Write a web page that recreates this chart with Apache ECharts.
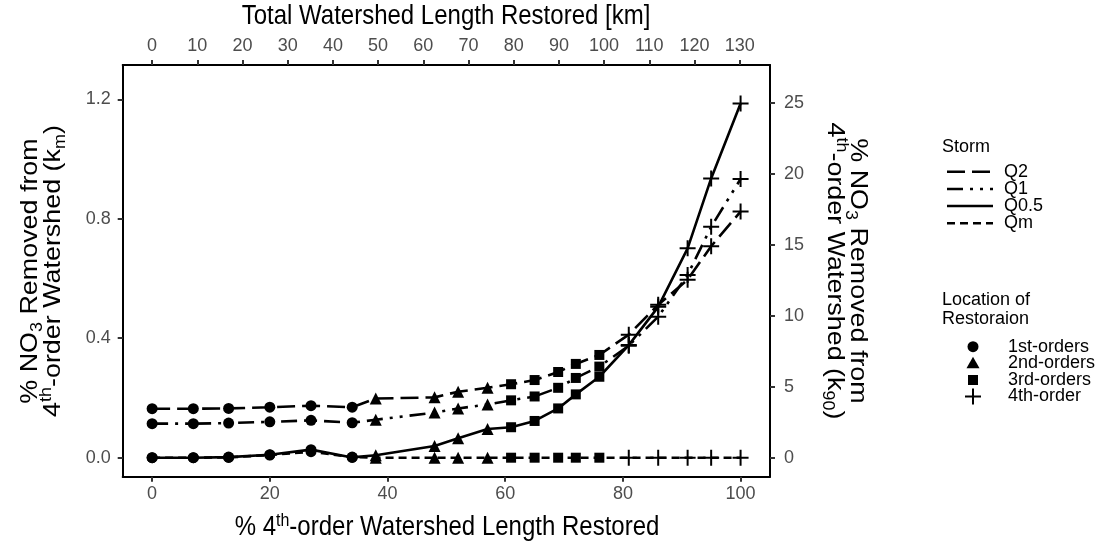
<!DOCTYPE html>
<html><head><meta charset="utf-8">
<script src="https://cdn.jsdelivr.net/npm/echarts@6/dist/echarts.min.js"></script>
<style>html,body{margin:0;padding:0;background:#fff}#c{width:1100px;height:550px}</style>
</head><body><div id="c"></div>
<script>
// ---- data ----
const pctRestored = [0, 7, 13, 20, 27, 34, 38, 48, 52, 57, 61, 65, 69, 72, 76, 81, 86, 91, 95, 100];
const locationOf = ['1st-orders','1st-orders','1st-orders','1st-orders','1st-orders','1st-orders',
  '2nd-orders','2nd-orders','2nd-orders','2nd-orders',
  '3rd-orders','3rd-orders','3rd-orders','3rd-orders','3rd-orders',
  '4th-order','4th-order','4th-order','4th-order','4th-order'];
const storms = ['Q2', 'Q1', 'Q0.5', 'Qm'];
const locations = ['1st-orders', '2nd-orders', '3rd-orders', '4th-order'];
const valuesQ2  = [0.164, 0.164, 0.165, 0.169, 0.174, 0.169, 0.198, 0.202, 0.221, 0.234, 0.246, 0.260, 0.287, 0.314, 0.344, 0.412, 0.512, 0.596, 0.708, 0.824];
const valuesQ1  = [0.114, 0.114, 0.116, 0.120, 0.125, 0.117, 0.127, 0.151, 0.165, 0.178, 0.192, 0.205, 0.234, 0.267, 0.305, 0.375, 0.472, 0.612, 0.773, 0.933];
const valuesQ05 = [0.000, 0.000, 0.002, 0.010, 0.027, 0.001, 0.008, 0.039, 0.065, 0.096, 0.102, 0.123, 0.165, 0.212, 0.271, 0.377, 0.505, 0.701, 0.935, 1.186];
const valuesQm  = [0.000, 0.000, 0.001, 0.009, 0.020, 0.002, 0.000, 0.000, 0.000, 0.000, 0.000, 0.000, 0.000, 0.000, 0.000, 0.000, 0.000, 0.000, 0.000, 0.000];
const bottomTicks = [0, 20, 40, 60, 80, 100];
const topTicksKm = [0, 10, 20, 30, 40, 50, 60, 70, 80, 90, 100, 110, 120, 130];
const leftTicks = [0, 0.4, 0.8, 1.2];
const rightTicks = [0, 5, 10, 15, 20, 25];
const kmPerPct = 1.302;     // top axis: total length in km per % restored
const k90PerKm = 21.03;     // right axis scale relative to left axis

// ---- styles ----
const FONT = '"Liberation Sans", Arial, Helvetica, sans-serif';
const dashes = { 'Q2': [18, 7], 'Q1': [16, 7, 3, 7, 3, 7], 'Q0.5': 'solid', 'Qm': [8, 5] };
const plusPath = 'path://M7,0 h2 v7 h7 v2 h-7 v7 h-2 v-7 h-7 v-2 h7 z';
const symbolOf = { '1st-orders': ['circle', 11], '2nd-orders': ['triangle', 12], '3rd-orders': ['rect', 10], '4th-order': [plusPath, 16] };
const valuesByStorm = { 'Q2': valuesQ2, 'Q1': valuesQ1, 'Q0.5': valuesQ05, 'Qm': valuesQm };

const xMin = -5, xMax = 105, yMin = -0.0636, yMax = 1.3147;

const rich = {
  n:   { fontSize: 24, fontFamily: FONT, color: '#000', lineHeight: 23 },
  sub: { fontSize: 16, fontFamily: FONT, color: '#000', height: 9, lineHeight: 9, verticalAlign: 'bottom' },
  sup: { fontSize: 16, fontFamily: FONT, color: '#000', height: 10, lineHeight: 10, verticalAlign: 'top' }
};
const tickLabel = { color: '#4d4d4d', fontSize: 18, fontFamily: FONT };
const axisLine = { show: true, onZero: false, lineStyle: { color: '#000', width: 2 } };
const axisTick = { show: true, length: 5, lineStyle: { color: '#333', width: 2 } };

const series = storms.map(s => ({
  name: s, type: 'line', xAxisIndex: 0, yAxisIndex: 0,
  data: pctRestored.map((x, i) => ({
    value: [x, valuesByStorm[s][i]],
    symbol: symbolOf[locationOf[i]][0],
    symbolSize: symbolOf[locationOf[i]][1]
  })),
  symbolKeepAspect: true,
  lineStyle: { color: '#000', width: 2.6, type: dashes[s] },
  itemStyle: { color: '#000' },
  emphasis: { disabled: true },
  silent: true
}));

// ---- titles & legend (drawn as text) ----
const graphic = [];
const STRETCH = 1.12;
graphic.push({ type: 'text', x: 446, y: 17, scaleY: STRETCH,
  style: { text: '{n|Total Watershed Length Restored [km]}', rich, align: 'center', verticalAlign: 'middle' } });
graphic.push({ type: 'text', x: 447, y: 528, scaleY: STRETCH,
  style: { text: '{n|% 4}{sup|th}{n|-order Watershed Length Restored}', rich, align: 'center', verticalAlign: 'middle' } });
graphic.push({ type: 'text', x: 42, y: 271, rotation: Math.PI / 2, scaleX: STRETCH,
  style: { text: '{n|% NO}{sub|3}{n| Removed from}\n{n|4}{sup|th}{n|-order Watershed (k}{sub|m}{n|)}', rich, align: 'center', verticalAlign: 'middle' } });
graphic.push({ type: 'text', x: 846, y: 271, rotation: -Math.PI / 2, scaleX: STRETCH,
  style: { text: '{n|% NO}{sub|3}{n| Removed from}\n{n|4}{sup|th}{n|-order Watershed (k}{sub|90}{n|)}', rich, align: 'center', verticalAlign: 'middle' } });

const LG = 18;
graphic.push({ type: 'text', x: 942, y: 146.7, style: { text: 'Storm', fontSize: LG, fontFamily: FONT, fill: '#000', verticalAlign: 'middle' } });
const stormY = [171.7, 189, 206, 223.3];
storms.forEach((s, i) => {
  graphic.push({ type: 'line', shape: { x1: 947, y1: stormY[i], x2: 993, y2: stormY[i] },
    style: { stroke: '#000', lineWidth: 2.6, lineDash: dashes[s] === 'solid' ? null : dashes[s] } });
  graphic.push({ type: 'text', x: 1004, y: stormY[i], style: { text: s, fontSize: LG, fontFamily: FONT, fill: '#000', verticalAlign: 'middle' } });
});
graphic.push({ type: 'text', x: 942, y: 300, style: { text: 'Location of', fontSize: LG, fontFamily: FONT, fill: '#000', verticalAlign: 'middle' } });
graphic.push({ type: 'text', x: 942, y: 319, style: { text: 'Restoraion', fontSize: LG, fontFamily: FONT, fill: '#000', verticalAlign: 'middle' } });
const locY = [346.7, 363.3, 380, 396.5];
const sx = 973;
graphic.push({ type: 'circle', shape: { cx: sx, cy: locY[0], r: 5.5 }, style: { fill: '#000' } });
graphic.push({ type: 'polygon', shape: { points: [[sx, locY[1] - 6.5], [sx - 6.5, locY[1] + 5], [sx + 6.5, locY[1] + 5]] }, style: { fill: '#000' } });
graphic.push({ type: 'rect', shape: { x: sx - 5, y: locY[2] - 5, width: 10, height: 10 }, style: { fill: '#000' } });
graphic.push({ type: 'line', shape: { x1: sx - 8, y1: locY[3], x2: sx + 8, y2: locY[3] }, style: { stroke: '#000', lineWidth: 2 } });
graphic.push({ type: 'line', shape: { x1: sx, y1: locY[3] - 8, x2: sx, y2: locY[3] + 8 }, style: { stroke: '#000', lineWidth: 2 } });
locations.forEach((l, i) => {
  graphic.push({ type: 'text', x: 1008, y: locY[i], style: { text: l, fontSize: LG, fontFamily: FONT, fill: '#000', verticalAlign: 'middle' } });
});

const option = {
  animation: false,
  backgroundColor: '#fff',
  grid: { left: 122.7, right: 330, top: 65, bottom: 73.3, show: false },
  xAxis: [
    { type: 'value', position: 'bottom', min: xMin, max: xMax,
      axisLine, axisTick: Object.assign({ customValues: bottomTicks }, axisTick),
      axisLabel: Object.assign({ customValues: bottomTicks, margin: 8 }, tickLabel),
      splitLine: { show: false } },
    { type: 'value', position: 'top', min: xMin * kmPerPct, max: xMax * kmPerPct,
      axisLine, axisTick: Object.assign({ customValues: topTicksKm }, axisTick),
      axisLabel: Object.assign({ customValues: topTicksKm, margin: 10 }, tickLabel),
      splitLine: { show: false } }
  ],
  yAxis: [
    { type: 'value', position: 'left', min: yMin, max: yMax,
      axisLine, axisTick: Object.assign({ customValues: leftTicks }, axisTick),
      axisLabel: Object.assign({ customValues: leftTicks, margin: 12, formatter: v => v.toFixed(1) }, tickLabel),
      splitLine: { show: false } },
    { type: 'value', position: 'right', min: yMin * k90PerKm, max: yMax * k90PerKm,
      axisLine, axisTick: Object.assign({ customValues: rightTicks }, axisTick),
      axisLabel: Object.assign({ customValues: rightTicks, margin: 14 }, tickLabel),
      splitLine: { show: false } }
  ],
  series,
  graphic
};
const chart = echarts.init(document.getElementById('c'), null, { renderer: 'canvas' });
chart.setOption(option);
</script>
</body></html>
